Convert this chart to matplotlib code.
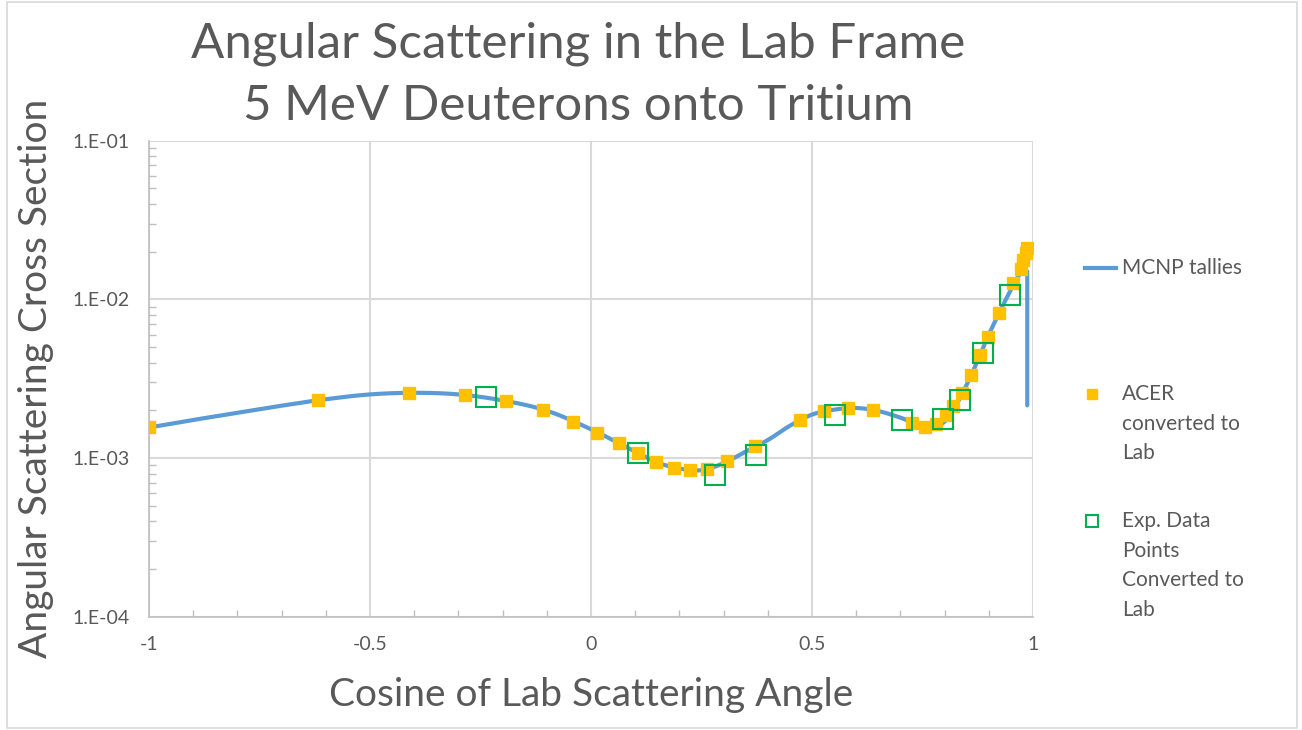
import numpy as np
import matplotlib.pyplot as plt
from matplotlib.lines import Line2D
from matplotlib.patches import Rectangle
from matplotlib.ticker import FixedLocator, NullFormatter, LogLocator

# ----------------------------------------
# data
# ----------------------------------------
# MCNP tally curve (blue line)
mcnp_x = [-1.0, -0.9, -0.8, -0.7, -0.6, -0.5, -0.4, -0.3, -0.2, -0.1, 0.0,
          0.1, 0.15, 0.2, 0.25, 0.3, 0.35, 0.4, 0.45, 0.5, 0.55, 0.6, 0.65,
          0.7, 0.75, 0.8, 0.85, 0.9, 0.95, 0.975, 0.987, 0.987]
mcnp_y = [1.56e-3, 1.74e-3, 1.93e-3, 2.14e-3, 2.35e-3, 2.52e-3, 2.58e-3,
          2.52e-3, 2.31e-3, 1.99e-3, 1.52e-3, 1.10e-3, 9.4e-4, 8.6e-4,
          8.4e-4, 9.3e-4, 1.10e-3, 1.30e-3, 1.60e-3, 1.88e-3, 2.02e-3,
          2.07e-3, 1.98e-3, 1.80e-3, 1.60e-3, 1.70e-3, 2.90e-3, 6.0e-3,
          1.15e-2, 1.50e-2, 1.50e-2, 2.15e-3]

# ACER converted to lab (orange squares)
acer_x = [-1.0, -0.618, -0.412, -0.286, -0.192, -0.109, -0.041, 0.013, 0.063,
          0.106, 0.147, 0.187, 0.223, 0.263, 0.308, 0.372, 0.473, 0.528,
          0.581, 0.639, 0.727, 0.755, 0.781, 0.804, 0.820, 0.840, 0.859,
          0.879, 0.898, 0.922, 0.954, 0.973, 0.978, 0.985, 0.987]
acer_y = [1.56e-3, 2.33e-3, 2.57e-3, 2.50e-3, 2.28e-3, 2.02e-3, 1.70e-3,
          1.45e-3, 1.24e-3, 1.08e-3, 9.4e-4, 8.68e-4, 8.38e-4, 8.54e-4,
          9.55e-4, 1.20e-3, 1.73e-3, 1.97e-3, 2.08e-3, 2.02e-3, 1.66e-3,
          1.58e-3, 1.65e-3, 1.88e-3, 2.14e-3, 2.57e-3, 3.35e-3, 4.48e-3,
          5.83e-3, 8.18e-3, 1.26e-2, 1.55e-2, 1.77e-2, 1.95e-2, 2.10e-2]

# experimental data converted to lab (green open squares)
exp_x = [-0.237, 0.106, 0.281, 0.374, 0.552, 0.704, 0.796, 0.834, 0.886, 0.948]
exp_y = [2.43e-3, 1.08e-3, 7.8e-4, 1.05e-3, 1.86e-3, 1.75e-3, 1.76e-3,
         2.33e-3, 4.59e-3, 1.07e-2]

title_lines = ["Angular Scattering in the Lab Frame", "5 MeV Deuterons onto Tritium"]
legend_labels = ["MCNP tallies", "ACER\nconverted to\nLab",
                 "Exp. Data\nPoints\nConverted to\nLab"]

BLUE = "#5B9BD5"
ORANGE = "#FFC000"
GREEN = "#00B050"
TEXT = "#595959"
GRID = "#D9D9D9"


# Excel-style "smoothed line": Catmull-Rom through the points (log y)
def smooth_line(xs, ys, n=12):
    px = np.asarray(xs, float)
    py = np.log10(np.asarray(ys, float))
    out_x, out_y = [px[0]], [py[0]]
    for i in range(len(px) - 1):
        p0 = i - 1 if i > 0 else i
        p3 = i + 2 if i + 2 < len(px) else i + 1
        t = np.linspace(0, 1, n + 1)[1:]
        for arr, out in ((px, out_x), (py, out_y)):
            a, b, c, d = arr[p0], arr[i], arr[i + 1], arr[p3]
            m1 = 0.5 * (c - a)
            m2 = 0.5 * (d - b)
            h00 = 2 * t**3 - 3 * t**2 + 1
            h10 = t**3 - 2 * t**2 + t
            h01 = -2 * t**3 + 3 * t**2
            h11 = t**3 - t**2
            out.extend(h00 * b + h10 * m1 + h01 * c + h11 * m2)
    return np.array(out_x), 10 ** np.array(out_y)


plt.rcParams['font.family'] = ['Lato', 'DejaVu Sans']

W, H = 1302, 730
fig = plt.figure(figsize=(W / 100, H / 100), dpi=100)

# chart area border
fig.add_artist(Rectangle((7 / W, 1 - 728 / H), 1290 / W, 726 / H,
                         transform=fig.transFigure, fill=False,
                         edgecolor=GRID, lw=1.2))

ax = fig.add_axes([149 / W, 1 - 617 / H, 884 / W, 476.5 / H])

# smooth the curve part, keep the final vertical drop as is
sx, sy = smooth_line(mcnp_x[:-1], mcnp_y[:-1])
ax.plot(np.append(sx, mcnp_x[-1]), np.append(sy, mcnp_y[-1]),
        color=BLUE, lw=3, zorder=3, solid_capstyle="round")
ax.plot(acer_x, acer_y, ls="none", marker="s", ms=9, mfc=ORANGE,
        mec=ORANGE, zorder=4)
ax.plot(exp_x, exp_y, ls="none", marker="s", ms=14, mfc="none",
        mec=GREEN, mew=1.5, zorder=5)

ax.set_yscale("log")
ax.set_xlim(-1, 1)
ax.set_ylim(1e-4, 1e-1)
ax.xaxis.set_major_locator(FixedLocator([-1, -0.5, 0, 0.5, 1]))
ax.xaxis.set_minor_locator(FixedLocator(np.arange(-1, 1.01, 0.1)))
ax.set_xticklabels(["-1", "-0.5", "0", "0.5", "1"])
ax.yaxis.set_major_locator(FixedLocator([1e-4, 1e-3, 1e-2, 1e-1]))
ax.yaxis.set_minor_locator(LogLocator(base=10, subs=np.arange(2, 10)))
ax.yaxis.set_minor_formatter(NullFormatter())
ax.set_yticklabels(["1.E-04", "1.E-03", "1.E-02", "1.E-01"])

ax.grid(True, which="major", color=GRID, lw=1.5)
ax.set_axisbelow(True)
for side in ["top", "right"]:
    ax.spines[side].set_visible(False)
for side in ["left", "bottom"]:
    ax.spines[side].set_color("#BFBFBF")
    ax.spines[side].set_linewidth(1.2)

ax.tick_params(which="major", length=0, labelsize=14, labelcolor=TEXT, pad=14)
ax.tick_params(which="minor", direction="in", length=5, width=1, color="#BFBFBF")

ax.set_xlabel("Cosine of Lab Scattering Angle", fontsize=28, color=TEXT, labelpad=17)
ax.set_ylabel("Angular Scattering Cross Section", fontsize=28, color=TEXT, labelpad=13)

fig.text(578 / W, 1 - 44 / H, title_lines[0], fontsize=35.5, color=TEXT,
         ha="center", va="center")
fig.text(578 / W, 1 - 106 / H, title_lines[1], fontsize=35.5, color=TEXT,
         ha="center", va="center")

# legend, entries aligned on the first text line like the source chart
fig.add_artist(Line2D([1085 / W, 1116 / W], [1 - 268 / H, 1 - 268 / H],
                      transform=fig.transFigure, color=BLUE, lw=3))
fig.add_artist(Line2D([1092 / W], [1 - 394 / H], transform=fig.transFigure,
                      marker="s", ms=7, mfc=ORANGE, mec=ORANGE, ls="none"))
fig.add_artist(Line2D([1092 / W], [1 - 521 / H], transform=fig.transFigure,
                      marker="s", ms=8, mfc="none", mec=GREEN, mew=1.5, ls="none"))
fig.text(1122 / W, 1 - 268 / H, legend_labels[0], fontsize=15, color=TEXT,
         ha="left", va="center")
for label, ytop in zip(legend_labels[1:], [384, 511]):
    fig.text(1122 / W, 1 - ytop / H, label, fontsize=15, color=TEXT,
             ha="left", va="top", linespacing=1.6)

fig.savefig("out.png", dpi=100, facecolor="white")
